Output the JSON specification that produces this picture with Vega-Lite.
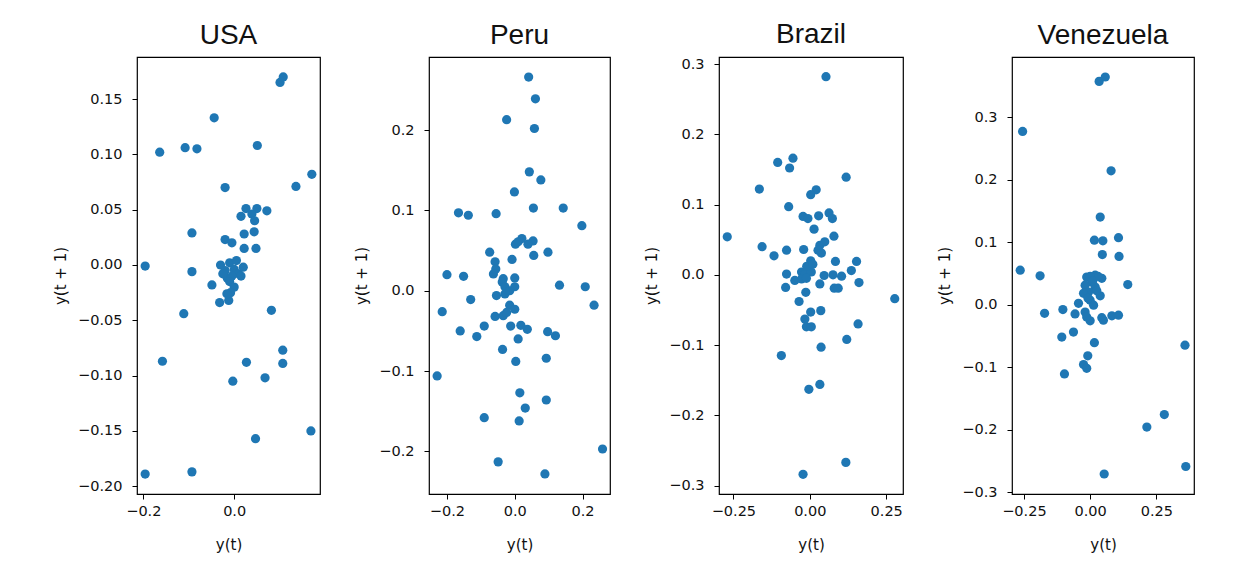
{
  "$schema": "https://vega.github.io/schema/vega-lite/v6.json",
  "background": "white",
  "padding": {"left": 52, "top": 20, "right": 5, "bottom": 5},
  "bounds": "flush",
  "spacing": 109,
  "datasets": {
    "pts": [
      {"country":"USA","x":0.101,"y":0.165},{"country":"USA","x":0.108,"y":0.170},{"country":"USA","x":-0.044,"y":0.133},{"country":"USA","x":-0.164,"y":0.102},{"country":"USA","x":-0.108,"y":0.106},{"country":"USA","x":-0.082,"y":0.105},{"country":"USA","x":0.051,"y":0.108},{"country":"USA","x":0.171,"y":0.082},{"country":"USA","x":0.136,"y":0.071},{"country":"USA","x":-0.020,"y":0.070},{"country":"USA","x":0.026,"y":0.051},{"country":"USA","x":0.050,"y":0.051},{"country":"USA","x":0.072,"y":0.049},{"country":"USA","x":0.015,"y":0.044},{"country":"USA","x":0.039,"y":0.046},{"country":"USA","x":0.045,"y":0.040},{"country":"USA","x":-0.093,"y":0.029},{"country":"USA","x":0.022,"y":0.028},{"country":"USA","x":0.044,"y":0.030},{"country":"USA","x":-0.020,"y":0.023},{"country":"USA","x":-0.005,"y":0.020},{"country":"USA","x":0.022,"y":0.015},{"country":"USA","x":0.048,"y":0.015},{"country":"USA","x":-0.196,"y":-0.001},{"country":"USA","x":-0.093,"y":-0.006},
      {"country":"USA","x":-0.030,"y":0.000},{"country":"USA","x":-0.020,"y":-0.005},{"country":"USA","x":-0.010,"y":0.002},{"country":"USA","x":0.000,"y":-0.004},{"country":"USA","x":0.010,"y":-0.008},{"country":"USA","x":-0.015,"y":-0.012},{"country":"USA","x":-0.005,"y":-0.010},{"country":"USA","x":0.020,"y":-0.002},{"country":"USA","x":-0.025,"y":-0.008},{"country":"USA","x":0.005,"y":0.004},{"country":"USA","x":-0.010,"y":-0.015},{"country":"USA","x":0.015,"y":-0.010},{"country":"USA","x":0.000,"y":-0.020},{"country":"USA","x":-0.008,"y":-0.025},
      {"country":"USA","x":-0.049,"y":-0.018},{"country":"USA","x":-0.032,"y":-0.034},{"country":"USA","x":-0.012,"y":-0.032},{"country":"USA","x":-0.016,"y":-0.026},{"country":"USA","x":-0.111,"y":-0.044},{"country":"USA","x":0.082,"y":-0.041},{"country":"USA","x":-0.158,"y":-0.087},{"country":"USA","x":0.027,"y":-0.088},{"country":"USA","x":0.107,"y":-0.077},{"country":"USA","x":0.107,"y":-0.089},{"country":"USA","x":0.068,"y":-0.102},{"country":"USA","x":-0.003,"y":-0.105},{"country":"USA","x":0.169,"y":-0.150},{"country":"USA","x":0.047,"y":-0.157},{"country":"USA","x":-0.196,"y":-0.189},{"country":"USA","x":-0.093,"y":-0.187},

      {"country":"Peru","x":0.041,"y":0.266},{"country":"Peru","x":0.061,"y":0.239},{"country":"Peru","x":-0.024,"y":0.213},{"country":"Peru","x":0.058,"y":0.202},{"country":"Peru","x":0.043,"y":0.148},{"country":"Peru","x":0.077,"y":0.138},{"country":"Peru","x":-0.001,"y":0.123},{"country":"Peru","x":-0.166,"y":0.097},{"country":"Peru","x":-0.137,"y":0.094},{"country":"Peru","x":-0.055,"y":0.096},{"country":"Peru","x":0.055,"y":0.103},{"country":"Peru","x":0.143,"y":0.103},{"country":"Peru","x":0.198,"y":0.081},{"country":"Peru","x":0.021,"y":0.065},{"country":"Peru","x":0.002,"y":0.058},{"country":"Peru","x":0.054,"y":0.062},{"country":"Peru","x":0.039,"y":0.058},{"country":"Peru","x":0.010,"y":0.061},{"country":"Peru","x":-0.074,"y":0.048},{"country":"Peru","x":0.056,"y":0.044},{"country":"Peru","x":0.098,"y":0.048},{"country":"Peru","x":-0.008,"y":0.039},{"country":"Peru","x":-0.058,"y":0.036},{"country":"Peru","x":-0.056,"y":0.027},{"country":"Peru","x":-0.200,"y":0.020},{"country":"Peru","x":-0.151,"y":0.018},{"country":"Peru","x":-0.034,"y":0.015},{"country":"Peru","x":0.000,"y":0.016},{"country":"Peru","x":-0.063,"y":0.021},{"country":"Peru","x":-0.037,"y":0.011},{"country":"Peru","x":-0.029,"y":0.005},{"country":"Peru","x":-0.054,"y":-0.006},{"country":"Peru","x":-0.029,"y":-0.004},{"country":"Peru","x":0.000,"y":0.005},{"country":"Peru","x":-0.015,"y":0.000},{"country":"Peru","x":0.132,"y":0.007},{"country":"Peru","x":0.208,"y":0.005},{"country":"Peru","x":0.234,"y":-0.018},{"country":"Peru","x":-0.130,"y":-0.011},{"country":"Peru","x":-0.214,"y":-0.026},{"country":"Peru","x":-0.058,"y":-0.032},{"country":"Peru","x":-0.034,"y":-0.031},{"country":"Peru","x":-0.015,"y":-0.018},{"country":"Peru","x":0.000,"y":-0.023},{"country":"Peru","x":-0.024,"y":-0.027},{"country":"Peru","x":-0.161,"y":-0.050},{"country":"Peru","x":-0.090,"y":-0.044},{"country":"Peru","x":-0.112,"y":-0.057},{"country":"Peru","x":-0.012,"y":-0.044},{"country":"Peru","x":0.018,"y":-0.043},{"country":"Peru","x":0.037,"y":-0.048},{"country":"Peru","x":0.010,"y":-0.060},{"country":"Peru","x":0.097,"y":-0.051},{"country":"Peru","x":0.120,"y":-0.056},{"country":"Peru","x":-0.036,"y":-0.073},{"country":"Peru","x":0.003,"y":-0.088},{"country":"Peru","x":0.093,"y":-0.084},{"country":"Peru","x":-0.229,"y":-0.106},{"country":"Peru","x":0.015,"y":-0.127},{"country":"Peru","x":0.093,"y":-0.136},{"country":"Peru","x":0.031,"y":-0.146},{"country":"Peru","x":-0.090,"y":-0.158},{"country":"Peru","x":0.013,"y":-0.162},{"country":"Peru","x":0.259,"y":-0.197},{"country":"Peru","x":-0.049,"y":-0.213},{"country":"Peru","x":0.089,"y":-0.228},

      {"country":"Brazil","x":0.053,"y":0.282},{"country":"Brazil","x":-0.105,"y":0.160},{"country":"Brazil","x":-0.055,"y":0.166},{"country":"Brazil","x":-0.066,"y":0.152},{"country":"Brazil","x":0.119,"y":0.139},{"country":"Brazil","x":-0.165,"y":0.122},{"country":"Brazil","x":0.021,"y":0.121},{"country":"Brazil","x":0.003,"y":0.114},{"country":"Brazil","x":-0.069,"y":0.097},{"country":"Brazil","x":-0.022,"y":0.083},{"country":"Brazil","x":-0.006,"y":0.080},{"country":"Brazil","x":0.029,"y":0.084},{"country":"Brazil","x":0.063,"y":0.088},{"country":"Brazil","x":0.074,"y":0.080},{"country":"Brazil","x":0.014,"y":0.065},{"country":"Brazil","x":-0.270,"y":0.054},{"country":"Brazil","x":0.079,"y":0.055},{"country":"Brazil","x":-0.156,"y":0.040},{"country":"Brazil","x":-0.076,"y":0.035},{"country":"Brazil","x":-0.117,"y":0.027},{"country":"Brazil","x":-0.020,"y":0.036},{"country":"Brazil","x":0.033,"y":0.042},{"country":"Brazil","x":0.049,"y":0.047},{"country":"Brazil","x":0.027,"y":0.035},{"country":"Brazil","x":0.038,"y":0.031},{"country":"Brazil","x":0.084,"y":0.019},{"country":"Brazil","x":0.153,"y":0.019},{"country":"Brazil","x":0.003,"y":0.020},{"country":"Brazil","x":0.136,"y":0.006},{"country":"Brazil","x":-0.076,"y":0.001},{"country":"Brazil","x":-0.027,"y":0.004},{"country":"Brazil","x":-0.006,"y":0.009},{"country":"Brazil","x":0.047,"y":-0.001},{"country":"Brazil","x":0.076,"y":0.000},{"country":"Brazil","x":0.104,"y":-0.002},{"country":"Brazil","x":-0.016,"y":0.001},{"country":"Brazil","x":0.005,"y":0.004},{"country":"Brazil","x":-0.010,"y":0.012},{"country":"Brazil","x":0.010,"y":0.015},{"country":"Brazil","x":-0.079,"y":-0.018},{"country":"Brazil","x":-0.049,"y":-0.008},{"country":"Brazil","x":-0.027,"y":-0.006},{"country":"Brazil","x":-0.011,"y":-0.005},{"country":"Brazil","x":0.033,"y":-0.013},{"country":"Brazil","x":0.080,"y":-0.019},{"country":"Brazil","x":0.093,"y":-0.019},{"country":"Brazil","x":0.161,"y":-0.011},{"country":"Brazil","x":0.278,"y":-0.034},{"country":"Brazil","x":-0.013,"y":-0.025},{"country":"Brazil","x":-0.035,"y":-0.038},{"country":"Brazil","x":0.003,"y":-0.053},{"country":"Brazil","x":0.036,"y":-0.051},{"country":"Brazil","x":-0.016,"y":-0.063},{"country":"Brazil","x":-0.011,"y":-0.074},{"country":"Brazil","x":0.005,"y":-0.074},{"country":"Brazil","x":0.158,"y":-0.070},{"country":"Brazil","x":0.121,"y":-0.092},{"country":"Brazil","x":0.037,"y":-0.103},{"country":"Brazil","x":-0.093,"y":-0.115},{"country":"Brazil","x":0.033,"y":-0.156},{"country":"Brazil","x":-0.003,"y":-0.163},{"country":"Brazil","x":0.118,"y":-0.267},{"country":"Brazil","x":-0.022,"y":-0.284},

      {"country":"Venezuela","x":0.034,"y":0.357},{"country":"Venezuela","x":0.057,"y":0.364},{"country":"Venezuela","x":-0.255,"y":0.277},{"country":"Venezuela","x":0.079,"y":0.214},{"country":"Venezuela","x":0.038,"y":0.140},{"country":"Venezuela","x":0.016,"y":0.103},{"country":"Venezuela","x":0.048,"y":0.102},{"country":"Venezuela","x":0.107,"y":0.107},{"country":"Venezuela","x":0.046,"y":0.080},{"country":"Venezuela","x":0.109,"y":0.077},{"country":"Venezuela","x":-0.264,"y":0.055},{"country":"Venezuela","x":-0.189,"y":0.046},{"country":"Venezuela","x":-0.013,"y":0.044},{"country":"Venezuela","x":0.019,"y":0.047},{"country":"Venezuela","x":0.044,"y":0.042},{"country":"Venezuela","x":0.006,"y":0.036},{"country":"Venezuela","x":-0.019,"y":0.031},{"country":"Venezuela","x":0.019,"y":0.028},{"country":"Venezuela","x":-0.006,"y":0.020},{"country":"Venezuela","x":-0.025,"y":0.018},{"country":"Venezuela","x":0.038,"y":0.014},{"country":"Venezuela","x":0.000,"y":0.007},{"country":"Venezuela","x":0.013,"y":-0.001},{"country":"Venezuela","x":0.030,"y":0.045},{"country":"Venezuela","x":0.000,"y":0.045},{"country":"Venezuela","x":0.010,"y":0.038},{"country":"Venezuela","x":-0.008,"y":0.010},{"country":"Venezuela","x":0.025,"y":0.022},{"country":"Venezuela","x":0.142,"y":0.032},{"country":"Venezuela","x":-0.044,"y":0.002},{"country":"Venezuela","x":-0.172,"y":-0.014},{"country":"Venezuela","x":-0.103,"y":-0.008},{"country":"Venezuela","x":-0.057,"y":-0.015},{"country":"Venezuela","x":-0.019,"y":-0.012},{"country":"Venezuela","x":0.000,"y":-0.026},{"country":"Venezuela","x":-0.013,"y":-0.020},{"country":"Venezuela","x":0.044,"y":-0.021},{"country":"Venezuela","x":0.050,"y":-0.025},{"country":"Venezuela","x":0.082,"y":-0.018},{"country":"Venezuela","x":0.107,"y":-0.017},{"country":"Venezuela","x":-0.063,"y":-0.044},{"country":"Venezuela","x":-0.107,"y":-0.052},{"country":"Venezuela","x":0.016,"y":-0.061},{"country":"Venezuela","x":-0.009,"y":-0.082},{"country":"Venezuela","x":-0.025,"y":-0.096},{"country":"Venezuela","x":-0.013,"y":-0.102},{"country":"Venezuela","x":-0.097,"y":-0.111},{"country":"Venezuela","x":0.358,"y":-0.065},{"country":"Venezuela","x":0.280,"y":-0.176},{"country":"Venezuela","x":0.214,"y":-0.196},{"country":"Venezuela","x":0.361,"y":-0.259},{"country":"Venezuela","x":0.053,"y":-0.271}
    ]
  },
  "data": {"name": "pts"},
  "hconcat": [
    {
      "title": "USA",
      "width": 183, "height": 437,
      "transform": [{"filter": "datum.country === 'USA'"}],
      "mark": {"type": "point", "filled": true, "opacity": 1, "size": 85, "color": "#1f77b4"},
      "encoding": {
        "x": {"field": "x", "type": "quantitative", "scale": {"domain": [-0.214, 0.189], "nice": false, "zero": false}, "axis": {"values": [-0.2, 0.0], "format": ".1f", "title": "y(t)"}},
        "y": {"field": "y", "type": "quantitative", "scale": {"domain": [-0.207, 0.188], "nice": false, "zero": false}, "axis": {"values": [-0.2, -0.15, -0.1, -0.05, 0, 0.05, 0.1, 0.15], "format": ".2f", "title": "y(t + 1)"}}
      }
    },
    {
      "title": "Peru",
      "width": 181, "height": 437,
      "transform": [{"filter": "datum.country === 'Peru'"}],
      "mark": {"type": "point", "filled": true, "opacity": 1, "size": 85, "color": "#1f77b4"},
      "encoding": {
        "x": {"field": "x", "type": "quantitative", "scale": {"domain": [-0.253, 0.281], "nice": false, "zero": false}, "axis": {"values": [-0.2, 0.0, 0.2], "format": ".1f", "title": "y(t)"}},
        "y": {"field": "y", "type": "quantitative", "scale": {"domain": [-0.253, 0.291], "nice": false, "zero": false}, "axis": {"values": [-0.2, -0.1, 0, 0.1, 0.2], "format": ".1f", "title": "y(t + 1)"}}
      }
    },
    {
      "title": "Brazil",
      "width": 184, "height": 437,
      "transform": [{"filter": "datum.country === 'Brazil'"}],
      "mark": {"type": "point", "filled": true, "opacity": 1, "size": 85, "color": "#1f77b4"},
      "encoding": {
        "x": {"field": "x", "type": "quantitative", "scale": {"domain": [-0.297, 0.305], "nice": false, "zero": false}, "axis": {"values": [-0.25, 0.0, 0.25], "format": ".2f", "title": "y(t)"}},
        "y": {"field": "y", "type": "quantitative", "scale": {"domain": [-0.312, 0.310], "nice": false, "zero": false}, "axis": {"values": [-0.3, -0.2, -0.1, 0, 0.1, 0.2, 0.3], "format": ".1f", "title": "y(t + 1)"}}
      }
    },
    {
      "title": "Venezuela",
      "width": 182, "height": 437,
      "transform": [{"filter": "datum.country === 'Venezuela'"}],
      "mark": {"type": "point", "filled": true, "opacity": 1, "size": 85, "color": "#1f77b4"},
      "encoding": {
        "x": {"field": "x", "type": "quantitative", "scale": {"domain": [-0.295, 0.392], "nice": false, "zero": false}, "axis": {"values": [-0.25, 0.0, 0.25], "format": ".2f", "title": "y(t)"}},
        "y": {"field": "y", "type": "quantitative", "scale": {"domain": [-0.303, 0.396], "nice": false, "zero": false}, "axis": {"values": [-0.3, -0.2, -0.1, 0, 0.1, 0.2, 0.3], "format": ".1f", "title": "y(t + 1)"}}
      }
    }
  ],
  "config": {
    "view": {"stroke": "#000000", "strokeWidth": 1.2},
    "title": {"font": "Liberation Sans", "fontSize": 28, "fontWeight": "normal", "color": "#111111", "offset": 7},
    "axis": {
      "grid": false, "domain": false,
      "tickColor": "#000000", "tickSize": 5, "tickWidth": 1,
      "labelFont": "DejaVu Sans", "labelFontSize": 14.5, "labelColor": "#111111",
      "titleFont": "DejaVu Sans", "titleFontSize": 15, "titleFontWeight": "normal", "titleColor": "#111111"
    },
    "axisX": {"labelPadding": 5, "titlePadding": 20},
    "axisY": {"labelPadding": 10, "titlePadding": 9}
  }
}
